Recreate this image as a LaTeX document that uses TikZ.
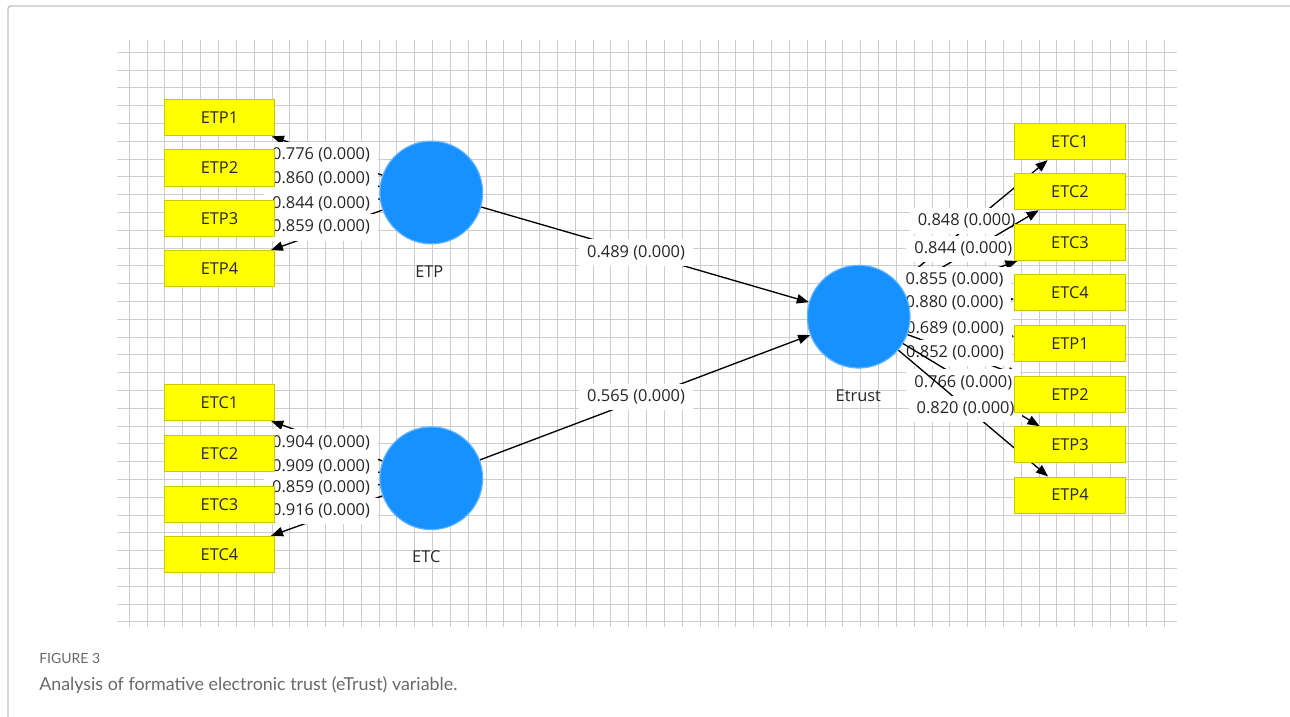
\documentclass[tikz,border=0pt]{standalone}
\usepackage{fontspec}
\setmainfont{Open Sans}
\newfontfamily\capfont{Lato}
\usetikzlibrary{arrows.meta}
\pgfdeclarelayer{grid}
\pgfdeclarelayer{edges}
\pgfsetlayers{grid,edges,main}
\definecolor{plsblue}{RGB}{22,145,255}
\definecolor{plsring}{RGB}{95,178,255}
\definecolor{plsyellow}{RGB}{255,255,0}
\definecolor{plsedge}{RGB}{200,200,0}
\definecolor{gridgray}{RGB}{205,205,205}
\definecolor{framegray}{RGB}{195,195,195}
\definecolor{capgray}{RGB}{105,105,105}

\begin{document}
\begin{tikzpicture}[x=0.75pt,y=-0.75pt, % one unit = one pixel, y downwards
  font=\fontsize{12.3}{15}\selectfont,
  indbox/.style={draw=plsedge,line width=0.75pt,fill=plsyellow,minimum width=83pt,minimum height=27pt,inner sep=0pt,text=black!85},
  latent/.style={circle,draw=plsring,line width=0.9pt,fill=plsblue,minimum size=77pt,inner sep=0pt},
  lvname/.style={text=black!85,inner sep=0pt},
  arr/.style={-{Triangle[length=9pt,width=7pt]},line width=1pt},
  coef/.style={fill=white,inner xsep=6pt,inner ysep=4.5pt,text=black!85},
  gridline/.style={draw=gridgray,line width=0.75pt}]
  \path[use as bounding box] (0,0) rectangle (1290,717);
  \begin{pgfonlayer}{grid}
    \foreach \i in {0,...,58}
      \draw[gridline] ({129.3+17.84*\i},40) -- ({129.3+17.84*\i},627);
    \foreach \j in {0,...,32}
      \draw[gridline] (117,{52.3+17.8*\j}) -- (1177,{52.3+17.8*\j});
    \draw[framegray,line width=1.1pt,rounded corners=2pt] (8,717) -- (8,6) -- (1290,6);
  \end{pgfonlayer}

  % latent variables
  \node[latent] (ETP) at (431.3,192.5) {};
  \node[latent] (ETC) at (431.3,478.3) {};
  \node[latent] (Etrust) at (858.7,316.7) {};
  \node[lvname] (ETPname) at (429.3,272) {ETP};
  \node[lvname] (ETCname) at (426.3,556.3) {ETC};
  \node[lvname] (Etrustname) at (858.3,395.8) {Etrust};

  % indicators
  \foreach \k/\y in {1/117.8,2/168,3/218.5,4/268.7}
    \node[indbox] (lETP\k) at (219.5,\y) {ETP\k};
  \foreach \k/\y in {1/402.7,2/453.8,3/504.2,4/554.3}
    \node[indbox] (lETC\k) at (219.5,\y) {ETC\k};
  \foreach \n/\y in {ETC1/141.7,ETC2/191.8,ETC3/242.5,ETC4/292.5,ETP1/343.3,ETP2/394.3,ETP3/444.7,ETP4/495}
    \node[indbox] (r\n) at (1070,\y) {\n};

  \begin{pgfonlayer}{edges}
    \foreach \k/\y/\v in {1/155.3/0.776,2/179.3/0.860,3/204.3/0.844,4/227.3/0.859}{
      \draw[arr] (ETP) -- (lETP\k);
      \node[coef] (cETP\k) at (321,\y) {\v\ (0.000)};
    }
    \foreach \k/\y/\v in {1/442.5/0.904,2/466.5/0.909,3/488.3/0.859,4/511/0.916}{
      \draw[arr] (ETC) -- (lETC\k);
      \node[coef] (cETC\k) at (321,\y) {\v\ (0.000)};
    }
    \draw[arr] (ETP) -- (Etrust);
    \node[coef] (cETP) at (636,252.5) {0.489 (0.000)};
    \draw[arr] (ETC) -- (Etrust);
    \node[coef] (cETC) at (636,397) {0.565 (0.000)};
    \foreach \n/\x/\y/\v in {ETC1/966.7/220.8/0.848,ETC2/963.3/249.2/0.844,ETC3/954.5/280.3/0.855,ETC4/954.5/303.3/0.880,
                            ETP1/955/328.8/0.689,ETP2/955/353/0.852,ETP3/963.3/382.5/0.766,ETP4/965.5/408.8/0.820}{
      \draw[arr] (Etrust) -- (r\n);
      \node[coef] (c\n) at (\x,\y) {\v\ (0.000)};
    }
  \end{pgfonlayer}

  % caption
  \node[text=capgray,font=\capfont\fontsize{10.5}{12}\selectfont,anchor=west,inner sep=0pt] (figno) at (39,658) {FIGURE 3};
  \node[text=capgray,font=\capfont\fontsize{13.4}{16}\selectfont,anchor=west,inner sep=0pt] (figcap) at (39,685) {Analysis of formative electronic trust (eTrust) variable.};
\end{tikzpicture}
\end{document}
